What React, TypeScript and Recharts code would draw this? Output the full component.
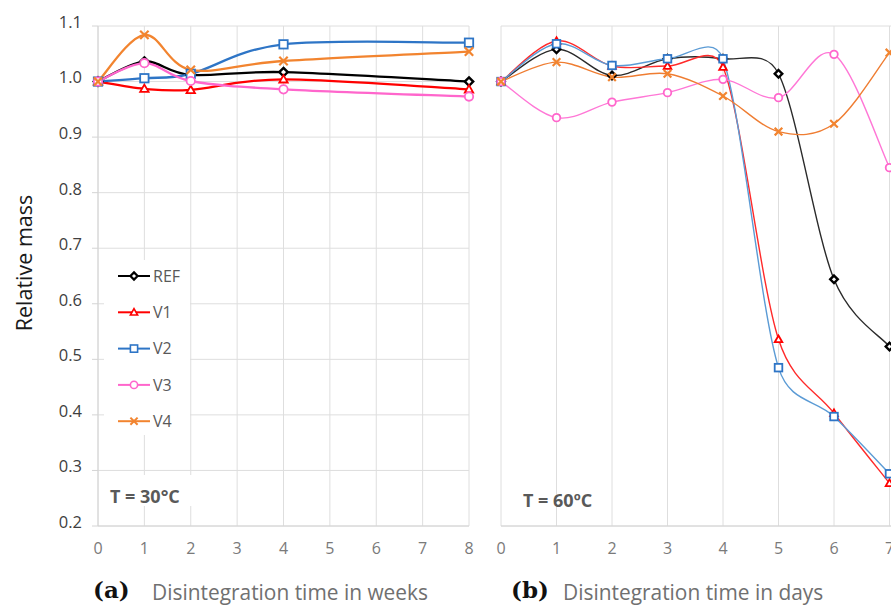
import React from 'react';
import { LineChart, Line, XAxis, YAxis, CartesianGrid } from 'recharts';

// x values
const weeks = [0, 1, 2, 4, 8];
const days = [0, 1, 2, 3, 4, 5, 6, 7];
const xTicks = [0, 1, 2, 3, 4, 5, 6, 7, 8];
const yTicks = [0.2, 0.3, 0.4, 0.5, 0.6, 0.7, 0.8, 0.9, 1.0, 1.1];
const yTickLabels = ['0.2', '0.3', '0.4', '0.5', '0.6', '0.7', '0.8', '0.9', '1.0', '1.1'];

// (a) T = 30°C, relative mass vs weeks
const refA = [1.0, 1.036, 1.012, 1.017, 1.0];
const v1A = [1.0, 0.987, 0.985, 1.004, 0.986];
const v2A = [1.0, 1.006, 1.014, 1.067, 1.07];
const v3A = [1.0, 1.033, 1.001, 0.986, 0.973];
const v4A = [1.0, 1.084, 1.021, 1.037, 1.054];

// (b) T = 60°C, relative mass vs days
const refB = [1.0, 1.058, 1.011, 1.041, 1.041, 1.014, 0.644, 0.523];
const v1B = [1.0, 1.073, 1.028, 1.028, 1.026, 0.536, 0.403, 0.277];
const v2B = [1.0, 1.068, 1.029, 1.041, 1.041, 0.485, 0.397, 0.294];
const v3B = [1.0, 0.935, 0.963, 0.98, 1.004, 0.971, 1.049, 0.845];
const v4B = [1.0, 1.035, 1.008, 1.014, 0.974, 0.91, 0.924, 1.052];

const names = ['REF', 'V1', 'V2', 'V3', 'V4'];

const dataA = weeks.map((x, i) => ({ x, REF: refA[i], V1: v1A[i], V2: v2A[i], V3: v3A[i], V4: v4A[i] }));
const dataB = days.map((x, i) => ({ x, REF: refB[i], V1: v1B[i], V2: v2B[i], V3: v3B[i], V4: v4B[i] }));

type Shape = 'diamond' | 'triangle' | 'square' | 'circle' | 'cross';

const styles: Record<string, { color: string; lineB: string; shape: Shape }> = {
  REF: { color: '#000000', lineB: '#2a2a2a', shape: 'diamond' },
  V1: { color: '#ff0000', lineB: '#ff2a2a', shape: 'triangle' },
  V2: { color: '#2e75c6', lineB: '#5b9bd5', shape: 'square' },
  V3: { color: '#ff66cc', lineB: '#ff77d6', shape: 'circle' },
  V4: { color: '#f2842f', lineB: '#ef7d32', shape: 'cross' },
};

// Excel-like smoothed line (Catmull-Rom bezier with limited handles)
const excelSmooth = (context: any) => {
  let pts: number[][] = [];
  return {
    areaStart() {},
    areaEnd() {},
    lineStart() {
      pts = [];
    },
    point(x: number, y: number) {
      pts.push([+x, +y]);
    },
    lineEnd() {
      const n = pts.length;
      if (!n) return;
      context.moveTo(pts[0][0], pts[0][1]);
      for (let i = 0; i < n - 1; i++) {
        const p0 = pts[i > 0 ? i - 1 : i];
        const p1 = pts[i];
        const p2 = pts[i + 1];
        const p3 = pts[i + 2 < n ? i + 2 : i + 1];
        const seg = Math.hypot(p2[0] - p1[0], p2[1] - p1[1]);
        const max = seg * 0.5;
        let t1x = (p2[0] - p0[0]) / 6;
        let t1y = (p2[1] - p0[1]) / 6;
        let t2x = (p3[0] - p1[0]) / 6;
        let t2y = (p3[1] - p1[1]) / 6;
        const l1 = Math.hypot(t1x, t1y);
        const l2 = Math.hypot(t2x, t2y);
        if (l1 > max) {
          t1x *= max / l1;
          t1y *= max / l1;
        }
        if (l2 > max) {
          t2x *= max / l2;
          t2y *= max / l2;
        }
        context.bezierCurveTo(p1[0] + t1x, p1[1] + t1y, p2[0] - t2x, p2[1] - t2y, p2[0], p2[1]);
      }
    },
  };
};

const drawShape = (shape: Shape, cx: number, cy: number, color: string, s: number, sw: number) => {
  switch (shape) {
    case 'diamond':
      return (
        <polygon
          points={`${cx},${cy - s} ${cx + s},${cy} ${cx},${cy + s} ${cx - s},${cy}`}
          fill="#fff"
          stroke={color}
          strokeWidth={sw + 0.6}
        />
      );
    case 'triangle':
      return (
        <polygon
          points={`${cx},${cy - s} ${cx + s},${cy + s * 0.75} ${cx - s},${cy + s * 0.75}`}
          fill="#fff"
          stroke={color}
          strokeWidth={sw}
        />
      );
    case 'square':
      return <rect x={cx - s} y={cy - s} width={2 * s} height={2 * s} fill="#fff" stroke={color} strokeWidth={sw} />;
    case 'circle':
      return <circle cx={cx} cy={cy} r={s} fill="#fff" stroke={color} strokeWidth={sw} />;
    default:
      return (
        <path
          d={`M${cx - s},${cy - s}L${cx + s},${cy + s}M${cx - s},${cy + s}L${cx + s},${cy - s}`}
          stroke={color}
          strokeWidth={sw + 0.4}
          fill="none"
        />
      );
  }
};

const marker = (name: string, s: number, sw: number) => (props: any) => {
  const { cx, cy, index } = props;
  if (cx == null || cy == null) return <g key={`${name}-${index}`} />;
  return <g key={`${name}-${index}`}>{drawShape(styles[name].shape, cx, cy, styles[name].color, s, sw)}</g>;
};

const gridColor = '#dedede';
const tickFont = '"Open Sans", sans-serif';

const App: React.FC = () => {
  return (
    <div
      style={{
        position: 'absolute',
        left: 0,
        top: 0,
        width: 891,
        height: 608,
        overflow: 'hidden',
        background: '#fff',
        fontFamily: tickFont,
      }}
    >
      <div style={{ position: 'absolute', left: 0, top: 0 }}>
        <LineChart width={480} height={570} data={dataA} margin={{ top: 26, right: 11, bottom: 0, left: 0 }}>
          <CartesianGrid stroke={gridColor} strokeWidth={1} />
          <XAxis
            dataKey="x"
            type="number"
            domain={[0, 8]}
            ticks={xTicks}
            height={44}
            tickSize={0}
            tickMargin={17}
            axisLine={{ stroke: '#d4d4d4' }}
            tick={{ fill: '#7a7a7a', fontSize: 16, fontFamily: tickFont }}
          />
          <YAxis
            type="number"
            domain={[0.2, 1.1]}
            ticks={yTicks}
            width={98}
            tickSize={6}
            tickMargin={10}
            axisLine={{ stroke: '#d4d4d4' }}
            tickLine={{ stroke: '#d4d4d4' }}
            tickFormatter={(v: number) => yTickLabels[yTicks.findIndex((t) => Math.abs(t - v) < 1e-6)] ?? String(v)}
            tick={{ fill: '#404040', fontSize: 16.5, fontFamily: tickFont, dy: -4 }}
          />
          {names.map((n) => (
            <Line
              key={n}
              dataKey={n}
              type={excelSmooth as any}
              stroke={styles[n].color}
              strokeWidth={2.3}
              dot={marker(n, 4.2, 1.8)}
              activeDot={false}
              isAnimationActive={false}
            />
          ))}
        </LineChart>
      </div>

      <div style={{ position: 'absolute', left: 491, top: 0 }}>
        <LineChart width={470} height={570} data={dataB} margin={{ top: 26, right: 16, bottom: 0, left: 10 }}>
          <CartesianGrid stroke={gridColor} strokeWidth={1} />
          <XAxis
            dataKey="x"
            type="number"
            domain={[0, 8]}
            ticks={xTicks}
            height={44}
            tickSize={0}
            tickMargin={17}
            axisLine={{ stroke: '#d4d4d4' }}
            tick={{ fill: '#7a7a7a', fontSize: 16, fontFamily: tickFont }}
          />
          <YAxis
            type="number"
            domain={[0.2, 1.1]}
            ticks={yTicks}
            width={0}
            tick={false}
            tickLine={false}
            axisLine={{ stroke: '#d4d4d4' }}
          />
          {names.map((n) => (
            <Line
              key={n}
              dataKey={n}
              type={excelSmooth as any}
              stroke={styles[n].lineB}
              strokeWidth={1.4}
              dot={marker(n, 3.8, 1.8)}
              activeDot={false}
              isAnimationActive={false}
            />
          ))}
        </LineChart>
      </div>

      <svg width={891} height={608} style={{ position: 'absolute', left: 0, top: 0, pointerEvents: 'none' }}>
        <text
          transform="translate(32,263) rotate(-90)"
          textAnchor="middle"
          fontSize={21.5}
          fontFamily={tickFont}
          fill="#1a1a1a"
        >
          Relative mass
        </text>

        {/* legend */}
        <rect x={104} y={260} width={86} height={175} fill="#fff" />
        {names.map((n, i) => {
          const cy = 276 + i * 36.3;
          return (
            <g key={n}>
              <line x1={118} x2={150} y1={cy} y2={cy} stroke={styles[n].color} strokeWidth={2} />
              {drawShape(styles[n].shape, 134, cy, styles[n].color, 3.6, 1.6)}
              <text x={153} y={cy + 5.6} fontSize={16} fontFamily={tickFont} fill="#595959">
                {n}
              </text>
            </g>
          );
        })}

        <rect x={104} y={475} width={90} height={31} fill="#fff" />
        <text x={110} y={503} fontSize={18} fontWeight="bold" fontFamily={tickFont} fill="#595959">
          T = 30°C
        </text>
        <text x={523} y={507} fontSize={18} fontWeight="bold" fontFamily={tickFont} fill="#595959">
          T = 60ºC
        </text>

        <text x={93} y={598} fontSize={23} fontWeight="bold" fontFamily='"DejaVu Serif", serif' fill="#111">
          (a)
        </text>
        <text x={152} y={600} fontSize={20.9} fontFamily={tickFont} fill="#707070">
          Disintegration time in weeks
        </text>
        <text x={511} y={598} fontSize={23} fontWeight="bold" fontFamily='"DejaVu Serif", serif' fill="#111">
          (b)
        </text>
        <text x={563} y={600} fontSize={20.9} fontFamily={tickFont} fill="#707070">
          Disintegration time in days
        </text>
      </svg>
    </div>
  );
};

export default App;
